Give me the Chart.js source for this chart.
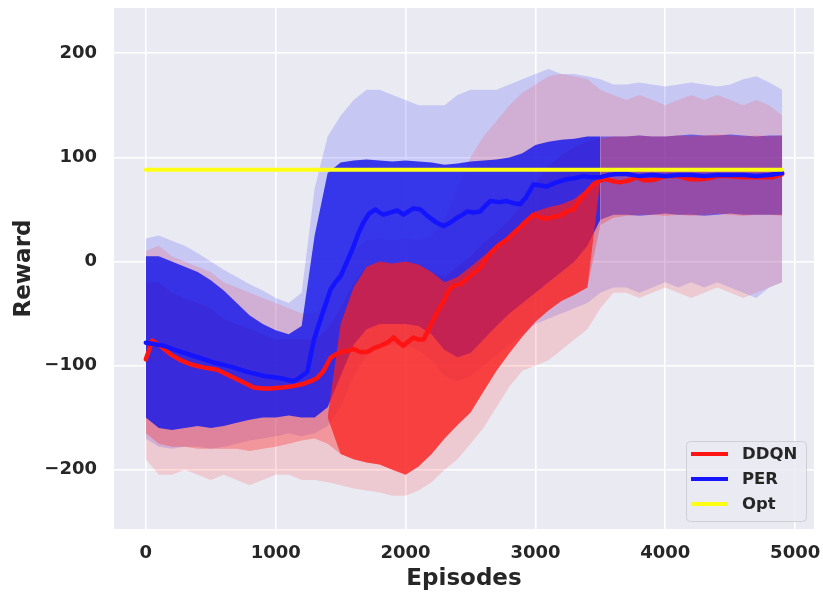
<!DOCTYPE html>
<html>
<head>
<meta charset="utf-8">
<script src="https://cdn.jsdelivr.net/npm/chart.js@4.4.0/dist/chart.umd.min.js"></script>
<style>
  html, body { margin: 0; padding: 0; background: #ffffff; }
</style>
</head>
<body>
<canvas id="reward-chart" width="823" height="593"></canvas>
<script>

// ---- data ----
var seriesNames = ["DDQN", "PER", "Opt"];
var seriesColors = ["#ff1414", "#1414ff", "#ffff14"];

var xTicks = [0, 1000, 2000, 3000, 4000, 5000];
var yTicks = [-200, -100, 0, 100, 200];

// running mean lines
var ddqnEp = [0,25,50,100,150,200,270,350,450,550,650,750,830,900,960,1050,1120,1200,1270,1320,
  1370,1420,1450,1500,1550,1600,1650,1705,1760,1807,1860,1908,1950,1984,2020,2061,2100,2138,2180,2217,
  2260,2293,2330,2370,2420,2470,2524,2575,2652,2720,2780,2830,2883,2940,2985,3040,3088,3140,3190,3240,
  3292,3330,3369,3410,3446,3500,3549,3600,3650,3727,3780,3830,3880,3932,4000,4100,4188,4260,4342,4400,
  4470,4600,4700,4829,4900];
var ddqnMean = [-94,-85,-76,-80,-85,-90,-95,-99,-102,-104,-110,-116,-121,-122,-122,-121,-120,-118,-115,-112,
  -105,-93,-90,-87,-86,-84,-87,-87,-83,-81,-78,-73,-78,-81,-77,-73,-75,-75,-65,-55,
  -45,-39,-28,-23,-22,-17,-11,-6,8,16,21,27,33,40,45,42,41,43,44,48,
  50,57,63,69,74,78,79,77,76,78,81,78,78,79,82,82,79,79,80,82,
  82,81,81,81,84];

var perEp = [0,50,141,250,400,520,655,780,911,1030,1141,1180,1244,1295,1360,1423,1460,1500,1550,1601,
  1640,1678,1720,1769,1800,1830,1880,1935,1984,2020,2061,2114,2166,2230,2293,2340,2396,2440,2473,2524,
  2575,2610,2652,2720,2780,2830,2883,2930,2985,3040,3088,3160,3241,3300,3369,3430,3497,3560,3625,3700,
  3800,3900,4000,4100,4200,4300,4400,4500,4600,4700,4800,4900];
var perMean = [-78,-79,-81,-86,-92,-97,-101,-106,-110,-112,-115,-112,-106,-75,-50,-27,-20,-14,0,15,
  28,38,46,50,47,45,47,49,45,48,51,50,44,38,34,37,42,45,48,47,
  48,53,58,57,58,56,55,62,74,73,72,76,79,80,82,81,81,83,84,84,
  82,83,82,83,83,82,83,83,83,82,83,85];

var optEp = [0, 4900];
var optVal = [88, 88];

// spread of the episode rewards (dense core and sparse outer spikes)
var bandEp = [0,100,200,300,400,500,600,700,800,900,1000,1100,1200,1300,1400,1500,1600,1700,1800,1900,
  2000,2100,2200,2300,2400,2500,2600,2700,2800,2900,3000,3100,3200,3300,3400,3500,3600,3700,3800,3900,
  4000,4100,4200,4300,4400,4500,4600,4700,4800,4900];

var perHi = [5,5,0,-5,-10,-18,-28,-40,-52,-60, -66,-70,-62,25,85,95,97,98,97,96,
  97,96,95,93,94,96,97,98,100,104, 112,115,117,118,120,120,120,120,121,120,
  120,121,122,121,121,122,121,120,121,121];
var perLo = [-150,-160,-162,-160,-158,-160,-158,-155,-152,-150, -150,-148,-150,-150,-140,-110,-80,-65,-60,-60,
  -60,-62,-70,-85,-92,-88,-75,-62,-50,-40, -30,-20,-10,0,15,40,45,45,44,45,
  46,45,45,44,45,46,45,45,45,45];
var perOutHi = [22,25,20,15,8,0,-8,-15,-22,-28, -35,-40,-30,70,120,140,155,165,165,160,
  155,150,150,150,160,165,165,165,170,175, 180,185,180,180,178,175,170,170,172,170,
  168,170,172,170,168,170,175,178,172,165];
var perOutLo = [-170,-178,-180,-178,-178,-180,-178,-175,-172,-170, -168,-165,-168,-165,-158,-140,-110,-90,-80,-80,
  -80,-85,-95,-110,-115,-110,-100,-90,-80,-70, -60,-55,-50,-45,-40,-30,-25,-25,-30,-25,
  -20,-25,-20,-25,-20,-25,-30,-35,-25,-20];

var ddqnHi = [-20,-20,-30,-35,-40,-45,-55,-60,-65,-70, -75,-75,-75,-75,-65,-45,-20,-5,0,-2,
  0,-3,-10,-15,-5,5,18,28,40,55, 75,92,102,110,115,118,120,120,121,120,
  120,121,120,121,122,121,120,121,120,121];
var ddqnLo = [-165,-175,-178,-178,-180,-180,-180,-180,-182,-180, -178,-175,-172,-170,-175,-185,-190,-193,-195,-200,
  -205,-197,-185,-170,-157,-145,-125,-105,-88,-72, -58,-47,-38,-32,-25,35,42,44,45,45,
  44,45,44,45,46,45,44,45,45,44];
var ddqnOutHi = [10,15,5,0,-5,-10,-20,-25,-30,-35, -40,-45,-50,-50,-40,-15,10,20,22,20,
  22,20,25,40,70,100,120,135,150,162, 170,178,180,178,175,165,160,155,160,155,
  150,155,160,155,160,155,150,155,150,140];
var ddqnOutLo = [-190,-205,-205,-200,-205,-210,-205,-210,-215,-210, -205,-205,-210,-210,-212,-215,-218,-220,-222,-225,
  -225,-220,-212,-200,-190,-175,-160,-140,-120,-105, -100,-95,-85,-75,-65,-45,-30,-30,-35,-30,
  -25,-30,-35,-30,-25,-30,-35,-30,-25,-20];

// the solid red block of DDQN (episodes 1400-3500)
var denseEp = [1400,1500,1600,1700,1800,1900,2000,2100,2200,2300,2400,2500,2600,2700,2800,2900,
  3000,3100,3200,3300,3400,3500];
var ddqnDenseHi = [-150,-60,-25,-5,0,-2,0,-3,-10,-20,-15,-5,5,15,25,38,48,52,55,60,70,78];
var ddqnDenseLo = [-150,-185,-190,-193,-195,-200,-205,-197,-185,-170,-157,-145,-125,-105,-88,-72,
  -58,-47,-38,-32,-25,78];

// ---- helpers ----
function pts(ep, vals, from, to) {
  var out = [];
  for (var i = 0; i < ep.length; i++) {
    if (ep[i] >= from && ep[i] <= to) out.push({x: ep[i], y: vals[i]});
  }
  return out;
}

function band(ep, hi, lo, from, to, color) {
  return [
    {data: pts(ep, hi, from, to), borderColor: 'rgba(0,0,0,0)', borderWidth: 0,
     pointRadius: 0, fill: '+1', backgroundColor: color, tension: 0},
    {data: pts(ep, lo, from, to), borderColor: 'rgba(0,0,0,0)', borderWidth: 0,
     pointRadius: 0, fill: false, tension: 0}
  ];
}

function meanLine(label, ep, vals, color, width) {
  return {label: label, data: pts(ep, vals, -Infinity, Infinity), borderColor: color,
    borderWidth: width, pointRadius: 0, fill: false, tension: 0,
    borderCapStyle: 'round', borderJoinStyle: 'round'};
}

function minusFmt(v) {
  return v < 0 ? '\u2212' + Math.abs(v) : String(v);
}

function noPad(s) {
  s.paddingTop = 0; s.paddingBottom = 0; s.paddingLeft = 0; s.paddingRight = 0;
}

// first dataset is drawn on top
var datasets = [
  meanLine(seriesNames[2], optEp, optVal, seriesColors[2], 4),
  meanLine(seriesNames[1], perEp, perMean, seriesColors[1], 4.5),
  meanLine(seriesNames[0], ddqnEp, ddqnMean, seriesColors[0], 4.5)
].concat(
  band(denseEp, ddqnDenseHi, ddqnDenseLo, 0, 4900, 'rgba(250,30,30,0.72)'),
  band(bandEp, ddqnHi, ddqnLo, 3500, 4900, 'rgba(255,30,30,0.28)'),
  band(bandEp, perHi, perLo, 0, 3500, 'rgba(28,28,232,0.85)'),
  band(bandEp, perHi, perLo, 3500, 4900, 'rgba(28,28,232,0.55)'),
  band(bandEp, ddqnHi, ddqnLo, 0, 3500, 'rgba(255,30,30,0.3)'),
  band(bandEp, ddqnOutHi, ddqnOutLo, 0, 4900, 'rgba(255,60,60,0.18)'),
  band(bandEp, perOutHi, perOutLo, 0, 4900, 'rgba(60,60,255,0.2)')
);

var plotBg = {
  id: 'plotBg',
  beforeDraw: function(chart) {
    var ctx = chart.ctx, a = chart.chartArea;
    ctx.save();
    ctx.fillStyle = '#ffffff';
    ctx.fillRect(0, 0, chart.width, chart.height);
    ctx.fillStyle = '#eaeaf2';
    ctx.fillRect(a.left, a.top, a.right - a.left, a.bottom - a.top);
    ctx.restore();
  }
};

var insideLegend = {
  id: 'insideLegend',
  afterDraw: function(chart) {
    var ctx = chart.ctx, a = chart.chartArea;
    var w = 120, h = 80;
    var x0 = a.right - 128, y0 = a.bottom - 88;
    ctx.save();
    ctx.beginPath();
    ctx.roundRect(x0 + 0.5, y0 + 0.5, w, h, 4);
    ctx.fillStyle = 'rgba(234,234,242,0.85)';
    ctx.fill();
    ctx.strokeStyle = '#cfcfd6';
    ctx.lineWidth = 1;
    ctx.stroke();
    ctx.font = 'bold 16.5px "DejaVu Sans"';
    ctx.textBaseline = 'middle';
    ctx.fillStyle = '#262626';
    for (var i = 0; i < seriesNames.length; i++) {
      var y = y0 + 13 + i * 25;
      ctx.beginPath();
      ctx.moveTo(x0 + 5, y);
      ctx.lineTo(x0 + 42, y);
      ctx.strokeStyle = seriesColors[i];
      ctx.lineWidth = 4;
      ctx.stroke();
      ctx.fillText(seriesNames[i], x0 + 56, y + 1);
    }
    ctx.restore();
  }
};

Chart.defaults.font.family = '"DejaVu Sans", sans-serif';

var chart = new Chart(document.getElementById('reward-chart'), {
  type: 'line',
  data: { datasets: datasets },
  options: {
    responsive: false,
    animation: false,
    events: [],
    layout: { padding: { left: 0, right: 9, top: 8, bottom: 0 } },
    plugins: {
      legend: { display: false },
      tooltip: { enabled: false }
    },
    scales: {
      x: {
        type: 'linear',
        min: -245, max: 5145,
        afterBuildTicks: function(s) { s.ticks = xTicks.map(function(v) { return {value: v}; }); },
        afterFit: function(s) { s.height = 64; noPad(s); },
        grid: { color: '#ffffff', lineWidth: 1.6, drawTicks: false },
        border: { display: false },
        ticks: { padding: 14, color: '#262626', maxRotation: 0,
                 font: { size: 18, weight: 'bold' }, callback: function(v) { return String(v); } },
        title: { display: true, text: 'Episodes', color: '#262626',
                 font: { size: 23, weight: 'bold' }, padding: { top: 0, bottom: 0 } }
      },
      y: {
        type: 'linear',
        min: -257, max: 243.5,
        afterBuildTicks: function(s) { s.ticks = yTicks.map(function(v) { return {value: v}; }); },
        afterFit: function(s) { s.width = 114; noPad(s); },
        grid: { color: '#ffffff', lineWidth: 1.6, drawTicks: false },
        border: { display: false },
        ticks: { padding: 17, color: '#262626',
                 font: { size: 18, weight: 'bold' }, callback: minusFmt },
        title: { display: true, text: 'Reward', color: '#262626',
                 font: { size: 23, weight: 'bold' }, padding: { top: 10, bottom: 0 } }
      }
    }
  },
  plugins: [plotBg, insideLegend]
});

</script>
</body>
</html>
